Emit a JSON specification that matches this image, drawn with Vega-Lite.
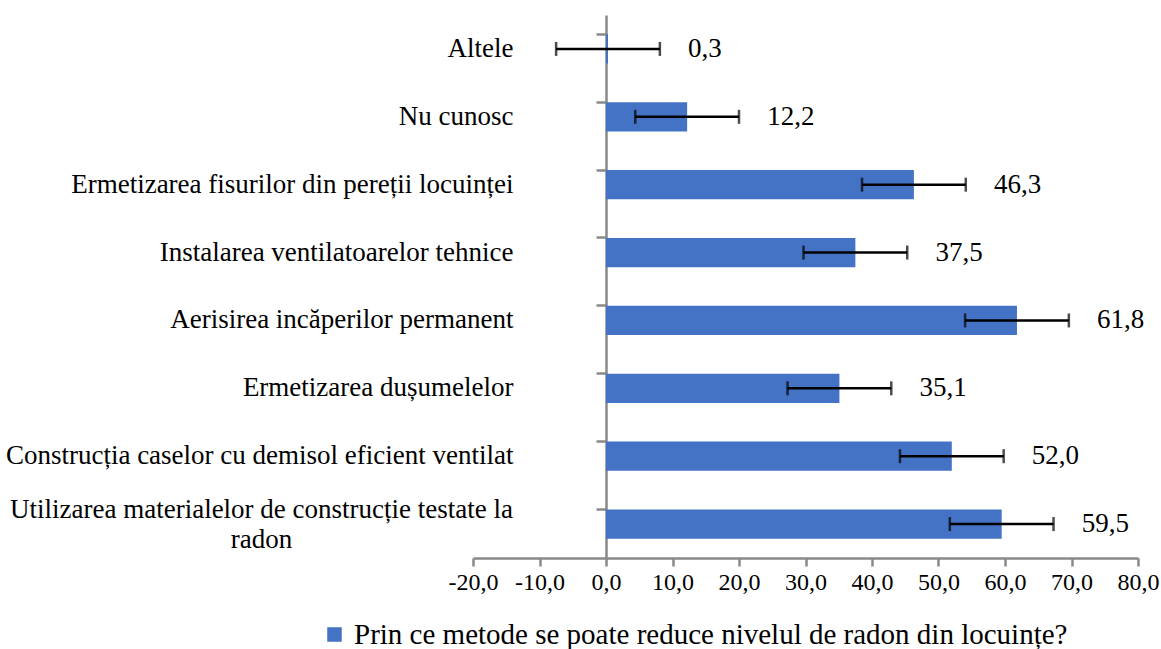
{
  "$schema": "https://vega.github.io/schema/vega-lite/v6.json",
  "width": 665,
  "height": 543,
  "autosize": {"type": "none"},
  "padding": {"left": 473, "top": 15, "right": 23, "bottom": 91},
  "background": "white",
  "config": {
    "locale": {"number": {"decimal": ",", "thousands": ".", "grouping": [3], "currency": ["", ""], "minus": "-"}},
    "view": {"stroke": null},
    "font": "Liberation Serif"
  },
  "data": {
    "values": [
      {"cat": "Altele", "value": 0.3, "err": 7.8, "series": "Prin ce metode se poate reduce nivelul de radon din locuințe?"},
      {"cat": "Nu cunosc", "value": 12.2, "err": 7.8, "series": "Prin ce metode se poate reduce nivelul de radon din locuințe?"},
      {"cat": "Ermetizarea fisurilor din pereții locuinței", "value": 46.3, "err": 7.8, "series": "Prin ce metode se poate reduce nivelul de radon din locuințe?"},
      {"cat": "Instalarea ventilatoarelor tehnice", "value": 37.5, "err": 7.8, "series": "Prin ce metode se poate reduce nivelul de radon din locuințe?"},
      {"cat": "Aerisirea incăperilor permanent", "value": 61.8, "err": 7.8, "series": "Prin ce metode se poate reduce nivelul de radon din locuințe?"},
      {"cat": "Ermetizarea dușumelelor", "value": 35.1, "err": 7.8, "series": "Prin ce metode se poate reduce nivelul de radon din locuințe?"},
      {"cat": "Construcția caselor cu demisol eficient ventilat", "value": 52.0, "err": 7.8, "series": "Prin ce metode se poate reduce nivelul de radon din locuințe?"},
      {"cat": "Utilizarea materialelor de construcție testate la radon", "value": 59.5, "err": 7.8, "series": "Prin ce metode se poate reduce nivelul de radon din locuințe?"}
    ]
  },
  "layer": [
    {
      "mark": {"type": "bar", "color": "#4472C4"},
      "encoding": {
        "y": {
          "field": "cat", "type": "nominal", "sort": null,
          "scale": {"paddingInner": 0.57, "paddingOuter": 0.285},
          "axis": {
            "orient": "left", "offset": -133, "domain": false, "ticks": false, "tickSize": 0,
            "title": null, "labelFontSize": 27, "labelColor": "black", "labelFont": "Liberation Serif",
            "labelLimit": 0, "labelLineHeight": 30,
            "labelExpr": "indexof(datum.value, 'radon') >= 0 ? ['Utilizarea materialelor de construcție testate la', 'radon'] : datum.value",
            "labelAlign": {"condition": {"test": "indexof(datum.value, 'radon') >= 0", "value": "center"}, "value": "right"},
            "labelPadding": {"condition": {"test": "indexof(datum.value, 'radon') >= 0", "value": 345}, "value": 93},
            "labelOffset": {"condition": {"test": "indexof(datum.value, 'radon') >= 0", "value": -14}, "value": 0}
          }
        },
        "x": {
          "field": "value", "type": "quantitative",
          "scale": {"domain": [-20, 80], "nice": false, "zero": false},
          "axis": {
            "values": [-20, -10, 0, 10, 20, 30, 40, 50, 60, 70, 80],
            "format": ".1f", "grid": false, "title": null,
            "domainColor": "#898989", "domainWidth": 2.5,
            "tickColor": "#898989", "tickWidth": 2.5, "tickSize": 8,
            "labelFontSize": 24, "labelColor": "black", "labelPadding": 4, "labelFlush": false,
            "labelFont": "Liberation Serif"
          }
        },
        "x2": {"datum": 0},
        "color": {
          "field": "series", "type": "nominal",
          "scale": {"range": ["#4472C4"]},
          "legend": {
            "title": null, "orient": "none", "legendX": -153, "legendY": 605,
            "symbolType": "square", "symbolSize": 210, "symbolStrokeWidth": 0,
            "labelFontSize": 29, "labelFont": "Liberation Serif", "labelColor": "black",
            "labelLimit": 0, "padding": 0, "labelOffset": 5
          }
        }
      }
    },
    {
      "mark": {"type": "errorbar", "ticks": {"size": 14}, "thickness": 2.5, "color": "black"},
      "encoding": {
        "x": {"field": "value", "type": "quantitative"},
        "xError": {"field": "err"},
        "y": {
          "field": "cat", "type": "nominal", "sort": null,
          "axis": {
            "orient": "left", "offset": -133, "labels": false, "title": null,
            "domain": true, "domainColor": "#898989", "domainWidth": 2.5,
            "ticks": true, "tickSize": 10, "tickColor": "#898989", "tickWidth": 2.5,
            "bandPosition": 0
          }
        }
      }
    },
    {
      "mark": {"type": "text", "align": "left", "baseline": "middle", "dx": 80, "fontSize": 27, "font": "Liberation Serif", "color": "black"},
      "encoding": {
        "x": {"field": "value", "type": "quantitative"},
        "y": {"field": "cat", "type": "nominal", "sort": null, "axis": null},
        "text": {"field": "value", "type": "quantitative", "format": ".1f"}
      }
    }
  ],
  "resolve": {"axis": {"y": "independent"}}
}
